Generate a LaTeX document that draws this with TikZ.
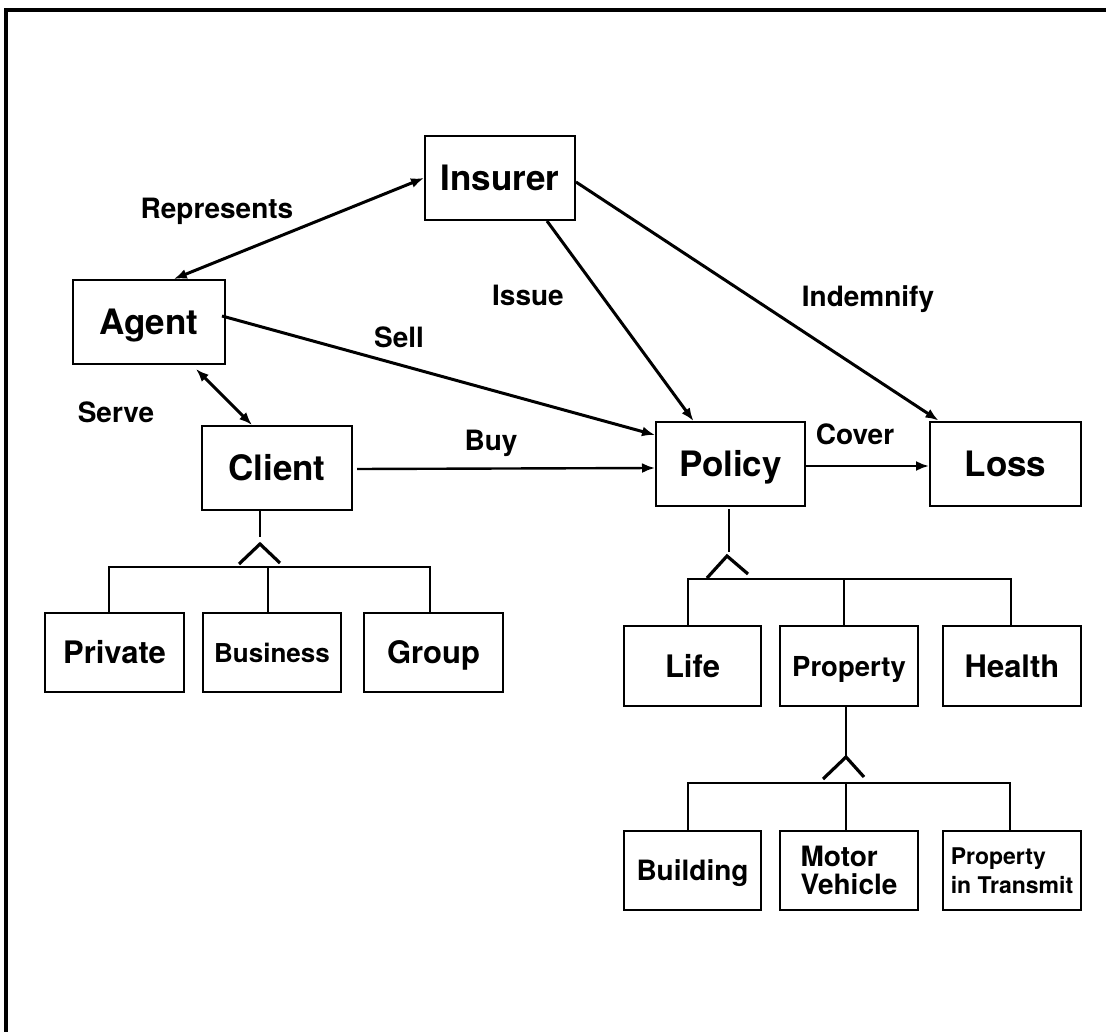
\documentclass[tikz,border=0pt]{standalone}
\usepackage{fontspec}
\setmainfont{TeX Gyre Heros}
\usetikzlibrary{arrows.meta,calc}

\begin{document}
\begin{tikzpicture}[x=1pt,y=-1pt,
  box/.style={draw,line width=2pt,inner sep=0pt,
    minimum width=150pt,minimum height=84pt,
    text height=25pt,text depth=0pt,
    font=\bfseries\fontsize{35}{40}\selectfont},
  subbox/.style={draw,line width=2pt,inner sep=0pt,
    minimum width=138pt,minimum height=80pt,
    text height=22pt,text depth=0pt,
    font=\bfseries\fontsize{31}{36}\selectfont},
  smallbox/.style={subbox,text height=,text depth=,
    font=\bfseries\fontsize{28}{28}\selectfont},
  lbl/.style={anchor=base,inner sep=0pt,
    font=\bfseries\fontsize{28}{32}\selectfont},
  conn/.style={line width=3pt,-{Latex[length=13pt,width=10pt]}},
  both/.style={line width=3pt,{Latex[length=13pt,width=10pt]}-{Latex[length=13pt,width=10pt]}},
  tree/.style={line width=2.6pt},
  caret/.style={line width=3.2pt}]

\useasboundingbox (0,0) rectangle (1106,1032);

% frame along the top and left edges
\draw[line width=3.4pt] (6,1032) -- (6,10) -- (1106,10);

% main entities
\node[box] (insurer) at (500,178) {Insurer};
\node[box,minimum width=152pt] (agent) at (149,322) {Agent};
\node[box] (client) at (277,468) {Client};
\node[box,minimum width=149pt] (policy) at (730.5,464) {Policy};
\node[box,minimum width=151pt] (loss) at (1005.5,463.5) {Loss};

% client kinds
\node[subbox,minimum width=139pt,minimum height=79pt] (private) at (114.5,652.5) {Private};
\node[subbox,minimum height=79pt,font=\bfseries\fontsize{26}{30}\selectfont,text height=19pt] (business) at (272,652.5) {Business};
\node[subbox,minimum width=139pt,minimum height=79pt] (group) at (433.5,652.5) {Group};

% policy kinds
\node[subbox,minimum width=137pt] (life) at (692.5,666) {Life};
\node[subbox,font=\bfseries\fontsize{27.5}{30}\selectfont,text height=20pt] (property) at (849,666) {Property};
\node[subbox] (health) at (1012,666) {Health};

% property kinds
\node[subbox,minimum width=137pt,minimum height=79pt,font=\bfseries\fontsize{28}{30}\selectfont,text height=20pt] (building) at (692.5,870.5) {Building};
\node[smallbox,minimum height=79pt,align=left] (motor) at (849,870.5) {Motor\\Vehicle};
\node[smallbox,minimum height=79pt,align=left,font=\bfseries\fontsize{23}{29}\selectfont] (transit) at (1012,870.5) {Property\\in Transmit};

% relationships
\draw[both] (agent.60) -- (insurer.west);
\draw[conn] ($(insurer.south)+(47,0)$) -- ($(policy.north)+(-37,0)$);
\draw[conn] ($(insurer.east)+(0,4)$) -- ($(loss.north)+(-67,0)$);
\draw[conn] ($(agent.east)+(-4,-6)$) -- ($(policy.west)+(0,-29)$);
\draw[both] ($(agent.south)+(47,4)$) -- ($(client.north)+(-25,0)$);
\draw[conn,line width=2.4pt] ($(client.east)+(4,1)$) -- ($(policy.west)+(0,4)$);
\draw[conn,line width=2.4pt] ($(policy.east)+(0,2)$) -- ($(loss.west)+(0,2.5)$);

% relationship labels
\node[lbl] (lrep) at (217,219) {Represents};
\node[lbl] (liss) at (528,306) {Issue};
\node[lbl] (lind) at (868,307) {Indemnify};
\node[lbl] (lsell) at (399,348) {Sell};
\node[lbl] (lserve) at (116,422) {Serve};
\node[lbl] (lbuy) at (491,450) {Buy};
\node[lbl] (lcov) at (855,444) {Cover};

% client generalisation
\coordinate (cl) at (109,567);
\coordinate (cm) at (268,567);
\coordinate (cr) at (430,567);
\draw[tree] ($(client.south)+(-17,0)$) -- (260,537);
\draw[caret] (239,564) -- (260,544) -- (280,563);
\draw[tree] (private.north -| cl) -- (cl) -- (cr) -- (group.north -| cr);
\draw[tree] (cm) -- (business.north -| cm);

% policy generalisation
\coordinate (pl) at (688,579);
\coordinate (pm) at (844,579);
\coordinate (pr) at (1011,579);
\draw[tree] (729,509) -- (729,552);
\draw[caret] (707,578) -- (727,556) -- (748,574);
\draw[tree] (life.north -| pl) -- (pl) -- (pr) -- (health.north -| pr);
\draw[tree] (pm) -- (property.north -| pm);

% property generalisation
\coordinate (ql) at (688,783);
\coordinate (qm) at (846,783);
\coordinate (qr) at (1010,783);
\draw[tree] (property.south -| qm) -- (846,757);
\draw[caret] (823,779) -- (846,757) -- (864,777);
\draw[tree] (building.north -| ql) -- (ql) -- (qr) -- (transit.north -| qr);
\draw[tree] (qm) -- (motor.north -| qm);

\end{tikzpicture}
\end{document}
